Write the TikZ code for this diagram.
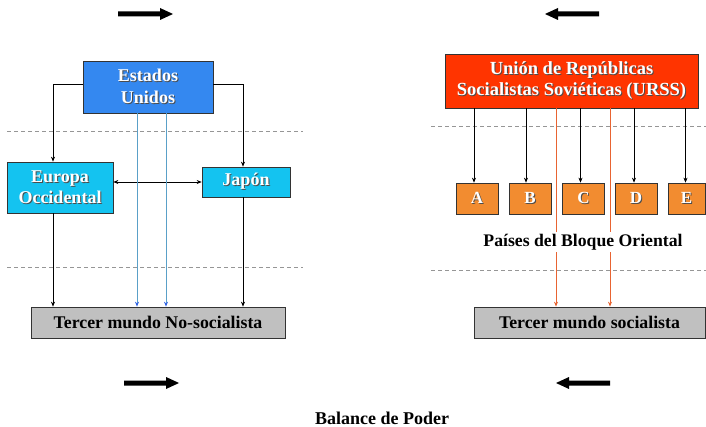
\documentclass[tikz,border=0pt]{standalone}
\usepackage{fontspec}
\setmainfont{Liberation Serif}
\usetikzlibrary{arrows.meta}
\definecolor{esblue}{RGB}{52,136,240}
\definecolor{cyanbox}{RGB}{20,195,240}
\definecolor{ussrred}{RGB}{255,52,0}
\definecolor{orbox}{RGB}{242,140,48}
\definecolor{graybox}{RGB}{192,192,192}
\definecolor{bluelink}{RGB}{90,160,200}
\definecolor{bluetip}{RGB}{50,100,230}
\definecolor{orlink}{RGB}{232,100,50}
\definecolor{dashgray}{RGB}{150,150,150}
\newcommand{\mysh}[1]{\makebox[0pt][l]{\hspace{1pt}\raisebox{-1pt}{\textcolor{black!70}{#1}}}\textcolor{white}{#1}}
\begin{document}
\begin{tikzpicture}[x=1pt,y=-1pt,
  box/.style={draw=black!80, line width=0.7pt, inner sep=0pt, align=center, font=\fontsize{18}{21}\selectfont\bfseries},
  esbox/.style={box, fill=esblue},
  cybox/.style={box, fill=cyanbox},
  urbox/.style={box, fill=ussrred, font=\fontsize{18.5}{20.5}\selectfont\bfseries},
  letbox/.style={box, fill=orbox, minimum width=42pt, minimum height=31pt, font=\fontsize{17}{20}\selectfont\bfseries},
  grbox/.style={box, fill=graybox, font=\fontsize{17.8}{20}\selectfont\bfseries},
  link/.style={draw=black, line width=0.6pt, -{Stealth[length=5pt,width=4pt]}},
  dlink/.style={draw=black, line width=0.6pt, {Stealth[length=5pt,width=4pt]}-{Stealth[length=5pt,width=4pt]}},
  blink/.style={draw=bluelink, line width=0.8pt, -{Stealth[length=5pt,width=4pt,color=bluetip]}},
  olink/.style={draw=orlink, line width=0.8pt, -{Stealth[length=5pt,width=4pt]}},
  sep/.style={draw=dashgray, dashed, dash pattern=on 4pt off 3pt, line width=0.5pt},
  bigarrow/.style={fill=black, draw=none}
]
\useasboundingbox (0,0) rectangle (706,427);

% block arrows
\fill[bigarrow] (118,11.5) -- (160,11.5) -- (160,8) -- (173,14) -- (160,20) -- (160,16.5) -- (118,16.5) -- cycle;
\fill[bigarrow] (599,11.5) -- (558,11.5) -- (558,8) -- (545,14) -- (558,20) -- (558,16.5) -- (599,16.5) -- cycle;
\fill[bigarrow] (124,380.5) -- (166,380.5) -- (166,377) -- (179,383) -- (166,389) -- (166,385.5) -- (124,385.5) -- cycle;
\fill[bigarrow] (610,380.5) -- (569,380.5) -- (569,377) -- (556,383) -- (569,389) -- (569,385.5) -- (610,385.5) -- cycle;

% dashed separators
\draw[sep] (7,131) -- (303,131);
\draw[sep] (7,267) -- (303,267);
\draw[sep] (431,126) -- (706,126);
\draw[sep] (431,270) -- (706,270);

% left side
\node[esbox, minimum width=130pt, minimum height=52pt] (es) at (148,87) {\mysh{Estados}\\[1pt]\mysh{Unidos}};
\node[cybox, minimum width=106pt, minimum height=51pt] (eu) at (60,187.5) {\mysh{Europa}\\\mysh{Occidental}};
\node[cybox, minimum width=88pt, minimum height=30pt] (jp) at (246,182) {\mysh{Japón}};
\node[grbox, minimum width=254pt, minimum height=31pt] (t1) at (158,322.5) {Tercer mundo No-socialista};

\coordinate (eul) at ([xshift=-7pt]eu.north);
\coordinate (jpl) at ([xshift=-3pt]jp.north);
\draw[link] ([yshift=3pt]es.west) -| (eul);
\draw[link] ([yshift=3pt]es.east) -| (jpl);
\draw[dlink] (eu.east |- jp.west) -- (jp.west);
\draw[link] ([xshift=-7pt]eu.south) -- ([xshift=-7pt]eu.south |- t1.north);
\draw[link] ([xshift=-3pt]jp.south) -- ([xshift=-3pt]jp.south |- t1.north);
\draw[blink] ([xshift=-11pt]es.south) -- ([xshift=-11pt]es.south |- t1.north);
\draw[blink] ([xshift=18pt]es.south) -- ([xshift=18pt]es.south |- t1.north);

% right side
\node[urbox, minimum width=253pt, minimum height=54pt] (ur) at (571.5,81) {\mysh{Unión de Repúblicas}\\\mysh{Socialistas Soviéticas (URSS)}};
\node[letbox] (a) at (477,198.5) {\mysh{A}};
\node[letbox] (b) at (530,198.5) {\mysh{B}};
\node[letbox] (c) at (583.5,198.5) {\mysh{C}};
\node[letbox] (d) at (636,198.5) {\mysh{D}};
\node[letbox, minimum width=37pt] (e) at (686.5,198.5) {\mysh{E}};
\node[grbox, minimum width=231pt, minimum height=31pt] (t2) at (589.5,322.5) {Tercer mundo socialista};

\foreach \n/\s in {a/-3,b/-4,c/-3,d/-2,e/-1}{
  \draw[link] ([xshift=\s pt]\n.north |- ur.south) -- ([xshift=\s pt]\n.north);
}
\draw[olink] ([xshift=-15.5pt]ur.south) -- ([xshift=-15.5pt]ur.south |- t2.north);
\draw[olink] ([xshift=38.5pt]ur.south) -- ([xshift=38.5pt]ur.south |- t2.north);
\node[fill=white, inner sep=2pt, font=\fontsize{17.7}{20}\selectfont\bfseries] (pbo) at (583,242) {Países del Bloque Oriental};

% caption
\node[font=\fontsize{18}{20}\selectfont\bfseries] (cap) at (382,418) {Balance de Poder};
\end{tikzpicture}
\end{document}
